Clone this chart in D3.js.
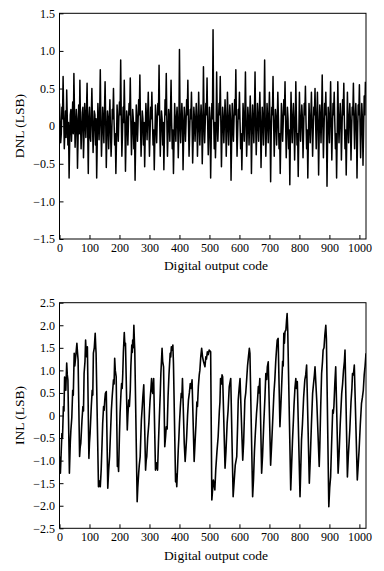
<!DOCTYPE html>
<html>
<head>
<meta charset="utf-8">
<script src="https://cdn.jsdelivr.net/npm/d3@7"></script>
<style>
body { margin: 0; background: #fff; }
</style>
</head>
<body>
<div id="canvas"></div>
<script>
// DATA ========================================================================

var CODE_MAX = 1022

// DNL sampled every DNL_STEP output codes, starting at code 0
var DNL_STEP = 2

var dnlValues = [
    0.30, 0.05, -0.22, -0.10, 0.25, 0.10, 0.66, 0.15, -0.30, -0.05, 0.20, -0.15, 0.48, 0.10, -0.25, 0.05,
    -0.69, -0.20, 0.15, 0.22, -0.20, 0.05, 0.32, -0.10, 0.70, 0.20, -0.28, -0.05, 0.22, 0.10, -0.56, -0.15,
    0.28, -0.10, 0.61, 0.05, -0.30, -0.05, 0.18, 0.25, -0.42, -0.10, 0.30, 0.10, -0.15, 0.20, 0.57, -0.05,
    -0.63, 0.10, 0.25, -0.15, -0.20, 0.15, 0.50, 0.05, -0.35, -0.05, 0.20, 0.15, -0.25, 0.10, -0.69, -0.20,
    0.30, 0.10, -0.18, 0.15, 0.75, 0.05, -0.40, -0.10, 0.25, 0.05, -0.22, 0.20, 0.59, 0.10, -0.55, -0.15,
    0.20, 0.10, -0.30, 0.05, 0.35, -0.05, -0.40, -0.15, 0.22, 0.10, 0.50, 0.05, -0.25, -0.10, -0.63, -0.20,
    0.28, 0.05, -0.20, 0.10, 0.32, 0.15, 0.88, 0.10, -0.40, -0.10, 0.25, 0.05, 0.61, 0.10, -0.60, -0.15,
    0.20, 0.10, -0.25, 0.05, 0.30, 0.15, 0.64, 0.05, -0.38, -0.10, 0.22, 0.10, -0.30, 0.05, -0.72, -0.20,
    0.28, 0.10, -0.20, 0.05, 0.35, 0.15, 0.68, 0.05, -0.40, -0.10, 0.20, 0.10, -0.25, 0.05, -0.54, -0.10,
    0.30, 0.10, -0.18, 0.15, 0.45, 0.05, -0.40, -0.10, 0.25, 0.10, 0.45, 0.05, -0.25, -0.05, -0.58, -0.15,
    0.28, 0.05, -0.22, 0.10, 0.30, 0.15, 0.81, 0.10, -0.40, -0.05, 0.20, 0.10, -0.25, 0.05, -0.58, -0.10,
    0.35, 0.15, 0.70, 0.05, -0.40, -0.10, 0.22, 0.10, -0.20, 0.15, 0.61, 0.05, -0.30, -0.05, -0.63, -0.20,
    0.30, 0.05, -0.20, 0.10, 0.25, 0.05, -0.42, -0.05, 1.02, 0.10, -0.22, 0.05, 0.30, 0.10, -0.58, -0.15,
    0.25, 0.10, -0.20, 0.05, 0.35, 0.15, 0.61, 0.05, -0.40, -0.10, 0.22, 0.10, 0.45, 0.05, -0.49, -0.15,
    0.25, 0.10, -0.20, 0.05, 0.30, 0.10, -0.40, -0.05, 0.45, 0.10, -0.25, 0.05, 0.28, 0.10, -0.50, -0.10,
    0.79, 0.10, -0.22, 0.05, 0.30, 0.15, 0.64, 0.05, -0.38, -0.10, 0.25, 0.10, -0.69, -0.15, 0.30, 0.10,
    1.28, 0.10, -0.30, 0.05, -0.42, -0.10, 0.72, 0.10, -0.20, 0.05, 0.30, 0.15, 0.66, 0.05, -0.54, -0.10,
    0.25, 0.10, -0.22, 0.05, 0.35, 0.10, -0.40, -0.05, 0.45, 0.10, -0.25, 0.05, 0.28, 0.10, -0.72, -0.20,
    0.30, 0.05, -0.20, 0.10, 0.35, 0.15, 0.75, 0.05, -0.40, -0.10, 0.22, 0.10, 0.45, 0.05, -0.30, -0.10,
    -0.58, -0.15, 0.30, 0.10, -0.20, 0.15, 0.72, 0.05, -0.40, -0.10, 0.25, 0.10, -0.25, 0.05, 0.40, 0.10,
    -0.63, -0.10, 0.28, 0.05, -0.22, 0.15, 0.72, 0.05, -0.38, -0.05, 0.30, 0.10, -0.20, 0.15, 0.45, 0.05,
    -0.55, -0.10, 0.25, 0.10, -0.25, 0.15, 0.88, 0.05, -0.40, -0.05, 0.30, 0.10, -0.22, 0.10, 0.45, 0.05,
    -0.74, -0.10, 0.25, 0.15, 0.66, 0.05, -0.40, -0.05, 0.22, 0.10, -0.25, 0.05, 0.45, 0.10, -0.30, -0.10,
    -0.63, -0.15, 0.30, 0.10, -0.20, 0.05, 0.35, 0.15, 0.59, 0.05, -0.42, -0.10, 0.25, 0.10, -0.30, -0.05,
    -0.78, -0.10, 0.45, 0.05, -0.22, 0.10, 0.30, 0.05, -0.45, -0.05, 0.59, 0.10, -0.25, -0.10, -0.67, -0.10,
    0.45, 0.10, -0.20, 0.05, 0.28, 0.10, -0.42, -0.05, 0.30, 0.15, 0.53, 0.05, -0.30, -0.05, -0.69, -0.15,
    0.30, 0.05, -0.22, 0.10, 0.45, 0.05, -0.40, -0.05, 0.25, 0.15, 0.50, 0.05, -0.30, 0.10, 0.45, 0.05,
    -0.65, -0.10, 0.28, 0.10, -0.22, 0.15, 0.68, 0.05, -0.42, -0.05, 0.30, 0.15, 0.45, 0.05, -0.80, -0.15,
    0.25, 0.10, -0.22, 0.15, 0.59, 0.05, -0.45, -0.05, 0.30, 0.15, 0.45, 0.05, -0.30, -0.10, -0.69, -0.10,
    0.59, 0.10, -0.22, 0.05, 0.30, 0.10, -0.45, -0.05, 0.35, 0.15, 0.57, 0.05, -0.30, -0.05, -0.65, -0.15,
    0.45, 0.05, -0.22, 0.10, 0.30, 0.05, -0.45, -0.05, 0.25, 0.15, 0.57, 0.05, -0.30, 0.10, 0.30, 0.05,
    -0.69, -0.10, 0.28, 0.15, 0.55, 0.05, -0.42, -0.05, 0.30, 0.10, -0.52, -0.05, 0.40, 0.15, 0.59
]

// INL as [code, value] vertices
var inlPoints = [
    [0,-0.91],[3,-1.28],[6,-0.75],[8,-0.4],[10,-0.5],[13,0.2],[15,0.1],[17,0.85],[19,0.65],[21,0.56],
    [24,1.16],[26,0.9],[28,0.79],[33,-1.28],[36,-0.6],[38,-0.32],[41,-0.05],[44,0.56],[46,0.45],[49,1.38],
    [51,1.1],[53,1.23],[56,1.45],[58,1.6],[60,1.4],[62,1.23],[67,-0.91],[69,-0.7],[71,-0.62],[75,-0.1],
    [78,0.2],[80,0.1],[82,0.93],[85,1.2],[87,1.67],[89,1.4],[91,1.3],[93,1.52],[98,-0.95],[100,-0.6],
    [102,-0.4],[106,0.2],[109,0.56],[111,0.45],[113,1.38],[116,1.5],[119,1.82],[121,1.5],[122,1.38],[130,-1.58],
    [133,-1.45],[136,-1.58],[139,-1.2],[142,-0.6],[144,-0.17],[147,0.2],[149,0.12],[151,0.35],[153,0.49],[156,0.53],
    [161,-1.61],[164,-1.2],[167,-0.91],[170,-0.4],[173,0.12],[176,0.45],[180,0.79],[182,0.7],[184,1.27],[186,1.0],
    [189,0.86],[193,-1.13],[195,-1.0],[197,-1.24],[200,-0.4],[202,0.05],[205,0.5],[207,0.71],[209,0.6],[211,0.93],
    [213,1.4],[216,1.84],[218,1.55],[220,1.6],[226,-0.32],[228,0.0],[231,0.34],[233,0.2],[236,0.56],[238,1.1],
    [241,1.56],[243,1.4],[244,1.67],[246,1.5],[248,2.0],[250,1.6],[251,1.45],[259,-1.91],[261,-1.6],[264,-1.28],
    [266,-1.1],[269,-0.91],[271,-0.5],[273,-0.1],[276,0.2],[278,0.42],[281,0.68],[287,-1.21],[289,-1.0],[291,-0.91],
    [294,-0.5],[298,-0.17],[300,0.1],[302,0.34],[305,0.6],[307,0.82],[309,0.55],[311,0.49],[314,0.82],[320,-1.21],
    [323,-1.05],[327,-1.21],[330,-0.6],[333,-0.03],[336,0.5],[338,0.93],[340,1.2],[342,1.49],[344,1.2],[347,1.08],
    [351,-0.69],[354,-0.45],[356,-0.25],[359,-0.3],[362,0.42],[365,0.9],[369,1.38],[371,1.3],[373,1.52],[376,1.45],
    [378,1.56],[380,1.16],[387,-1.47],[389,-1.3],[391,-1.58],[394,-1.1],[396,-0.76],[398,-0.5],[400,-0.17],[403,0.2],
    [406,0.49],[408,0.4],[410,0.82],[416,-0.62],[419,-1.02],[422,-0.7],[424,-0.47],[427,0.0],[430,0.34],[433,0.5],
    [436,0.71],[439,0.6],[442,0.79],[449,-1.02],[452,-0.6],[455,-0.2],[458,0.3],[460,0.2],[463,0.64],[466,0.9],
    [468,1.0],[471,1.3],[474,1.49],[477,1.3],[480,1.2],[485,1.08],[488,1.3],[490,1.25],[493,1.41],[496,1.35],
    [499,1.45],[504,1.41],[508,-1.87],[511,-1.6],[513,-1.43],[516,-1.55],[518,-1.65],[521,-1.2],[525,-0.8],[529,-0.47],
    [533,0.1],[535,0.3],[537,0.82],[540,0.7],[542,0.9],[544,0.86],[552,-1.17],[555,-0.8],[559,-0.17],[562,0.1],
    [566,0.64],[569,0.75],[571,0.82],[579,-1.8],[582,-1.5],[586,-1.1],[591,-0.91],[594,-0.2],[596,0.34],[599,0.6],
    [602,0.82],[611,-0.99],[614,-0.6],[618,0.34],[621,0.5],[624,0.79],[627,1.1],[630,1.3],[633,1.49],[635,1.38],
    [644,-1.8],[647,-1.4],[650,-0.8],[653,-0.4],[657,0.05],[660,0.3],[663,0.64],[665,0.5],[668,0.82],[674,-1.28],
    [677,-0.9],[681,-0.2],[685,0.4],[688,0.93],[691,0.8],[693,1.08],[696,1.19],[704,-1.1],[707,-0.7],[711,-0.1],
    [715,0.5],[718,0.79],[721,1.2],[724,1.5],[726,1.67],[729,1.71],[735,-0.25],[738,0.2],[741,0.7],[744,1.2],
    [746,1.1],[748,1.82],[750,1.6],[752,1.86],[755,1.9],[757,2.1],[759,2.26],[761,1.9],[771,-1.65],[774,-1.1],
    [777,-0.54],[780,-0.1],[782,0.23],[785,0.6],[788,0.82],[790,0.6],[793,0.75],[802,-1.8],[804,-1.3],[807,-0.54],
    [810,-0.2],[814,0.4],[818,0.79],[821,0.9],[824,1.12],[833,-1.5],[836,-1.0],[840,-0.2],[844,0.49],[847,0.7],
    [850,0.9],[852,1.08],[858,0.3],[866,-1.13],[868,-0.7],[871,0.2],[874,0.93],[877,1.2],[879,1.45],[882,1.5],
    [885,1.8],[888,2.0],[890,1.7],[898,-2.02],[901,-1.6],[904,-1.36],[907,-0.7],[911,0.12],[913,0.05],[915,0.2],
    [918,0.7],[921,1.08],[929,-1.28],[932,-0.9],[936,-0.2],[941,0.49],[944,0.7],[947,1.0],[950,1.2],[952,1.45],
    [960,-1.36],[963,-0.9],[968,-0.32],[972,0.3],[975,0.6],[977,0.93],[980,0.9],[983,1.12],[993,-1.43],[996,-1.1],
    [999,-0.76],[1003,-0.2],[1007,0.27],[1010,0.4],[1013,0.56],[1016,0.9],[1019,1.1],[1022,1.38]
]

var xTicks = [0, 100, 200, 300, 400, 500, 600, 700, 800, 900, 1000]
var dnlTicks = [-1.5, -1.0, -0.5, 0, 0.5, 1.0, 1.5]
var inlTicks = [-2.5, -2.0, -1.5, -1.0, -0.5, 0, 0.5, 1.0, 1.5, 2.0, 2.5]

var xTitle = "Digital output code"
var dnlTitle = "DNL (LSB)"
var inlTitle = "INL (LSB)"

// LAYOUT ======================================================================

var WIDTH = 384
var HEIGHT = 571
var FONT = "'Liberation Serif', 'Times New Roman', Times, serif"
var FONT_SIZE = 12
var TITLE_SIZE = 13.5
var LEFT = 59.5
var RIGHT = 366

// -----------------------------------------------------------------------------

var svg = d3.select("#canvas").append("svg")
    .attr("width", WIDTH)
    .attr("height", HEIGHT)
    .style("background", "#fff")

function fmt(d) {
    return d === 0 ? "0" : d3.format(".1f")(d)
}

function panel(id, points, ticks, title, top, bottom, titleY, strokeWidth) {
    let x = d3.scaleLinear().domain([0, CODE_MAX]).range([LEFT, RIGHT])
    let y = d3.scaleLinear().domain([ticks[0], ticks[ticks.length - 1]]).range([bottom, top])

    let g = svg.append("g").attr("id", id)

    g.append("clipPath")
        .attr("id", "clip-" + id)
        .append("rect")
            .attr("x", LEFT)
            .attr("y", top)
            .attr("width", RIGHT - LEFT)
            .attr("height", bottom - top)

    let line = d3.line()
        .x(d => x(d[0]))
        .y(d => y(d[1]))

    g.append("path")
        .datum(points)
        .attr("clip-path", "url(#clip-" + id + ")")
        .attr("d", line)
        .attr("fill", "none")
        .attr("stroke", "#000")
        .attr("stroke-width", strokeWidth)
        .attr("stroke-linejoin", "round")

    // Inward ticks on the bottom and left.
    let xAxis = g.append("g")
        .attr("transform", "translate(0," + bottom + ")")
        .call(d3.axisBottom(x).tickValues(xTicks).tickSize(-4).tickPadding(4).tickFormat(d3.format("d")))

    let yAxis = g.append("g")
        .attr("transform", "translate(" + LEFT + ",0)")
        .call(d3.axisLeft(y).tickValues(ticks).tickSize(-4).tickPadding(4.5).tickFormat(fmt))

    ;[xAxis, yAxis].forEach(function(a) {
        a.select(".domain").remove()
        a.selectAll("line").attr("stroke", "#000")
        a.selectAll("text")
            .attr("fill", "#000")
            .attr("font-family", FONT)
            .attr("font-size", FONT_SIZE)
    })

    // Frame.
    g.append("rect")
        .attr("x", LEFT)
        .attr("y", top)
        .attr("width", RIGHT - LEFT)
        .attr("height", bottom - top)
        .attr("fill", "none")
        .attr("stroke", "#000")
        .attr("stroke-width", 1)

    g.append("text")
        .text(xTitle)
        .attr("x", 216)
        .attr("y", titleY)
        .attr("text-anchor", "middle")
        .attr("font-family", FONT)
        .attr("font-size", TITLE_SIZE)
        .attr("fill", "#000")

    g.append("text")
        .text(title)
        .attr("transform", "translate(24," + ((top + bottom) / 2) + ") rotate(-90)")
        .attr("text-anchor", "middle")
        .attr("font-family", FONT)
        .attr("font-size", TITLE_SIZE)
        .attr("fill", "#000")
}

var dnlPoints = dnlValues.map((v, i) => [i * DNL_STEP, v])

panel("dnl", dnlPoints, dnlTicks, dnlTitle, 13.3, 239, 270, 1.5)
panel("inl", inlPoints, inlTicks, inlTitle, 302.7, 528.3, 559.5, 1.6)
</script>
</body>
</html>
